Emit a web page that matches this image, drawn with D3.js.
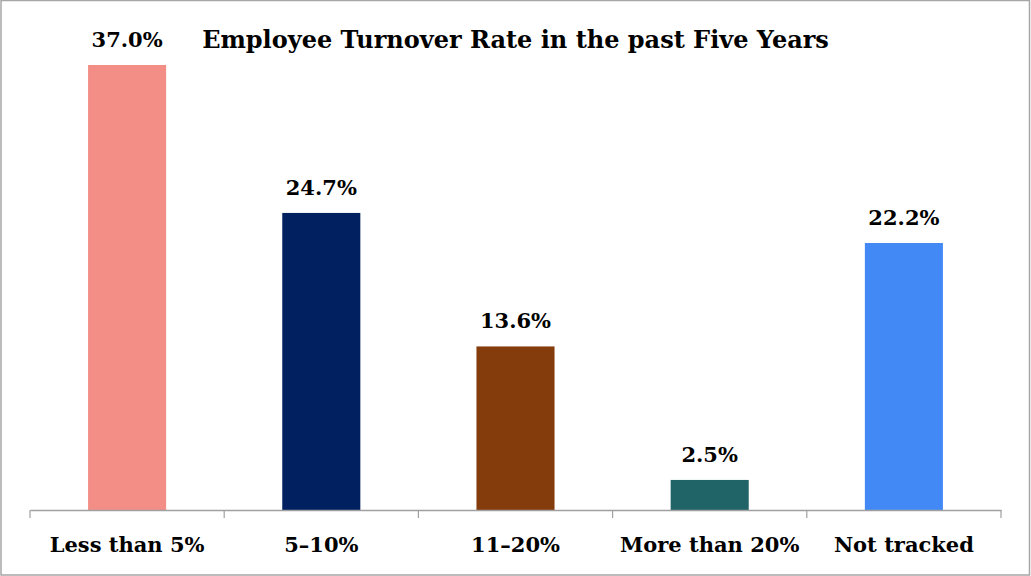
<!DOCTYPE html>
<html><head><meta charset="utf-8">
<script src="https://cdn.jsdelivr.net/npm/d3@7"></script>
<style>body{margin:0;background:#fff}svg{display:block}</style>
</head><body>
<script>
const categories = ["Less than 5%", "5–10%", "11–20%", "More than 20%", "Not tracked"];
const values = [37.0, 24.7, 13.6, 2.5, 22.2];
const labels = ["37.0%", "24.7%", "13.6%", "2.5%", "22.2%"];
const colors = ["#F38E87", "#002060", "#843C0C", "#216468", "#4389F5"];
const title = "Employee Turnover Rate in the past Five Years";

const W = 1031, H = 576;
const font = "'DejaVu Serif', 'Liberation Serif', serif";
const svg = d3.select("body").append("svg").attr("width", W).attr("height", H);
svg.append("rect").attr("x", 1).attr("y", 0.5).attr("width", 1028.5).attr("height", 574.5)
  .attr("fill", "#fff").attr("stroke", "#a6a6a6").attr("stroke-width", 1.5);

const x = d3.scaleBand().domain(categories).range([30, 1001]).paddingInner(0.598).paddingOuter(0.299);
const y = d3.scaleLinear().domain([0, 37]).range([510, 65]);

svg.selectAll("rect.bar").data(values).enter().append("rect").attr("class", "bar")
  .attr("x", (d, i) => x(categories[i])).attr("width", x.bandwidth())
  .attr("y", d => y(d)).attr("height", d => y(0) - y(d))
  .attr("fill", (d, i) => colors[i]);

svg.selectAll("text.val").data(values).enter().append("text").attr("class", "val")
  .attr("x", (d, i) => x(categories[i]) + x.bandwidth() / 2).attr("y", d => y(d) - 18)
  .attr("text-anchor", "middle").attr("font-family", font).attr("font-weight", "bold")
  .attr("font-size", 21).attr("fill", "#000").text((d, i) => labels[i]);

const xb = d3.scaleBand().domain(categories).range([30, 1001]);
const ax = svg.append("g").attr("transform", "translate(0,510)")
  .call(d3.axisBottom(xb).tickSize(0).tickPadding(0));
ax.select(".domain").attr("stroke", "#a0a0a0").attr("stroke-width", 1.5);
ax.selectAll("text").attr("dy", null).attr("y", 42)
  .attr("font-family", font).attr("font-weight", "bold").attr("font-size", 21).attr("fill", "#000");
const tickPos = xb.domain().map(c => xb(c)).concat([1001]);
ax.selectAll("line.tk").data(tickPos).enter().append("line").attr("class", "tk")
  .attr("x1", d => d).attr("x2", d => d).attr("y1", 0).attr("y2", 8)
  .attr("stroke", "#a0a0a0").attr("stroke-width", 1.2);

svg.append("text").attr("x", 515.5).attr("y", 48).attr("text-anchor", "middle")
  .attr("font-family", font).attr("font-weight", "bold").attr("font-size", 24).attr("fill", "#000").text(title);
</script>
</body></html>
